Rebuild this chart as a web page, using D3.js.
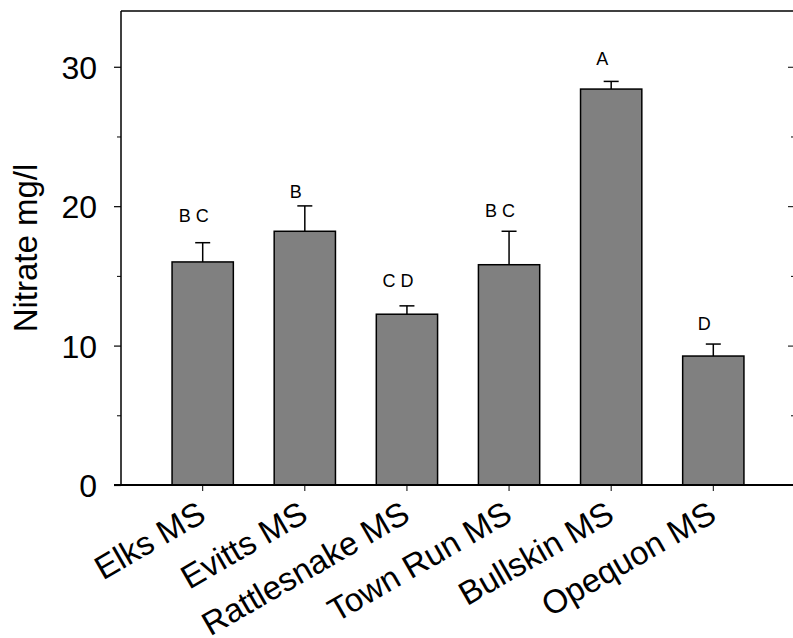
<!DOCTYPE html>
<html><head><meta charset="utf-8">
<script src="https://cdn.jsdelivr.net/npm/d3@7"></script>
<style>
html,body{margin:0;padding:0;background:#fff;}
svg{display:block;}
text{font-family:"Liberation Sans",Arial,Helvetica,sans-serif;fill:#000;}
</style></head>
<body>
<svg id="chart" width="793" height="638"></svg>
<script>
const categories = ["Elks MS","Evitts MS","Rattlesnake MS","Town Run MS","Bullskin MS","Opequon MS"];
const means = [16.0, 18.2, 12.25, 15.8, 28.4, 9.25];
const errors = [1.38, 1.82, 0.6, 2.4, 0.55, 0.86];
const letters = ["B C","B","C D","B C","A","D"];
const letterAt = [18.87, 20.57, 14.18, 19.25, 30.13, 11.12];
const majorTicks = [0,10,20,30];
const minorTicks = [5,15,25];
const yLabel = "Nitrate mg/l";

(function(){
const svg = d3.select("#chart");
const pL = 121, pR = 795, pT = 11, pB = 485;
const FONT = '"Liberation Sans",Arial,sans-serif';

const x = d3.scaleBand().domain(categories).range([pL, pR]).paddingInner(0.4).paddingOuter(0.5);
const y = d3.scaleLinear().domain([0, 34]).range([pB, pT]);

// bars
svg.append("g").selectAll("rect").data(categories).join("rect")
  .attr("x", d => x(d)).attr("width", x.bandwidth())
  .attr("y", (d,i) => y(means[i])).attr("height", (d,i) => y(0) - y(means[i]))
  .attr("fill", "#808080").attr("stroke", "#000").attr("stroke-width", 1.5);

// error bars (upper only)
const eg = svg.append("g").attr("stroke", "#000").attr("stroke-width", 1.5);
categories.forEach((c,i) => {
  const cx = x(c) + x.bandwidth()/2;
  eg.append("line").attr("x1", cx).attr("x2", cx).attr("y1", y(means[i])).attr("y2", y(means[i]+errors[i]));
  eg.append("line").attr("x1", cx-7.5).attr("x2", cx+7.5).attr("y1", y(means[i]+errors[i])).attr("y2", y(means[i]+errors[i]));
});

// letters
svg.append("g").selectAll("text").data(categories).join("text")
  .attr("x", d => x(d) + x.bandwidth()/2 - 9)
  .attr("y", (d,i) => y(letterAt[i]))
  .attr("text-anchor", "middle").attr("font-size", 18)
  .text((d,i) => letters[i]);

// top frame line
svg.append("line").attr("x1", pL).attr("x2", pR).attr("y1", pT).attr("y2", pT)
  .attr("stroke", "#000").attr("stroke-width", 1.5);

// left axis
const yAxisL = svg.append("g").attr("transform", `translate(${pL},0)`)
  .call(d3.axisLeft(y).tickValues(majorTicks).tickSize(7).tickPadding(17).tickFormat(d3.format("d")));
yAxisL.attr("font-size", 32).attr("font-family", FONT);
yAxisL.select(".domain").attr("d", `M0,${pT}V${pB}`).attr("stroke-width", 1.5);
yAxisL.selectAll(".tick line").attr("stroke-width", 1.2);
yAxisL.selectAll("text").attr("dy", "0.36em");
const yMinL = svg.append("g").attr("transform", `translate(${pL},0)`)
  .call(d3.axisLeft(y).tickValues(minorTicks).tickSize(4).tickFormat(""));
yMinL.select(".domain").remove();

// right axis (ticks pointing inward)
const yAxisR = svg.append("g").attr("transform", `translate(${pR},0)`)
  .call(d3.axisLeft(y).tickValues(majorTicks).tickSize(7).tickFormat(""));
yAxisR.select(".domain").attr("d", `M0,${pT}V${pB}`).attr("stroke-width", 1.5);
const yMinR = svg.append("g").attr("transform", `translate(${pR},0)`)
  .call(d3.axisLeft(y).tickValues(minorTicks).tickSize(4).tickFormat(""));
yMinR.select(".domain").remove();

// bottom axis
const xAxis = svg.append("g").attr("transform", `translate(0,${pB})`)
  .call(d3.axisBottom(x).tickSize(6).tickSizeOuter(0));
xAxis.attr("font-size", 33).attr("font-family", FONT);
xAxis.select(".domain").attr("d", `M${pL-7},0H${pR}`).attr("stroke-width", 2);
xAxis.selectAll("text")
  .attr("text-anchor", "end")
  .attr("dy", null).attr("y", null)
  .attr("transform", "translate(5,35) rotate(-30)");

// y label
svg.append("text")
  .attr("transform", `translate(37,248) rotate(-90)`)
  .attr("text-anchor", "middle").attr("font-size", 33)
  .text(yLabel);
})();
</script>
</body></html>
